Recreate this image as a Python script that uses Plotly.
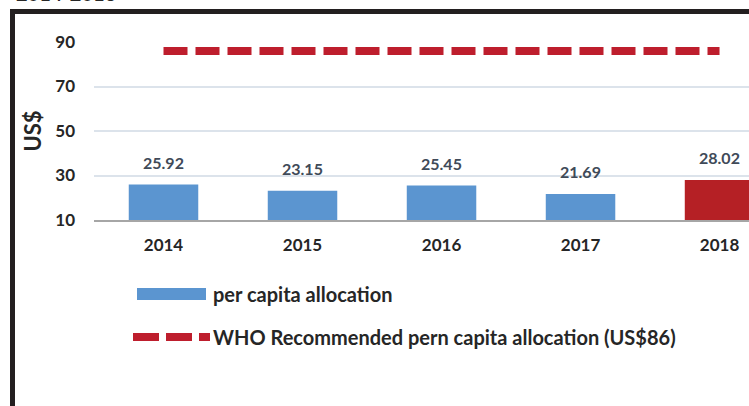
import plotly.graph_objects as go

# --- data ---
years = ["2014", "2015", "2016", "2017", "2018"]
allocation = [25.92, 23.15, 25.45, 21.69, 28.02]
who_recommended = [86, 86, 86, 86, 86]
y_ticks = [10, 30, 50, 70, 90]

W, H = 749, 406
FONT = "Lato"
TEXT_DARK = "#262626"
LABEL_GREY = "#404A58"
BLUE = "#5B95D0"
RED = "#B52025"
DASH_RED = "#BE1E2D"


def px(x):
    # pixel -> paper x
    return x / W


def py(y):
    # pixel -> paper y (pixels measured from the top)
    return 1 - y / H


bar_colors = [BLUE] * (len(years) - 1) + [RED]

fig = go.Figure()

fig.add_trace(go.Bar(
    x=years, y=allocation, width=0.5,
    marker=dict(color=bar_colors, line=dict(width=0)),
    name="per capita allocation", showlegend=False,
))

fig.add_trace(go.Scatter(
    x=years, y=who_recommended, mode="lines",
    line=dict(color=DASH_RED, width=8, dash="24px,8px"),
    name="WHO Recommended pern capita allocation (US$86)", showlegend=False,
))

# value labels sit a bit above each bar
# (category axis: annotations take the category index, "2014" would read as a number)
for i, val in enumerate(allocation):
    fig.add_annotation(
        x=i, y=val, xref="x", yref="y", text=f"{val:.2f}", showarrow=False,
        yshift=22, font=dict(family=FONT, size=16, color=LABEL_GREY, weight="bold"),
    )

# --- hand-drawn legend (symbols are wider than plotly's own) ---
fig.add_shape(type="rect", xref="paper", yref="paper",
              x0=px(137), x1=px(206), y0=py(300), y1=py(288),
              fillcolor=BLUE, line=dict(width=0))
fig.add_shape(type="line", xref="paper", yref="paper",
              x0=px(133), x1=px(210), y0=py(337), y1=py(337),
              line=dict(color=DASH_RED, width=8, dash="26px,7px"))
fig.add_annotation(x=px(211), y=py(294), xref="paper", yref="paper",
                   xanchor="left", yanchor="middle", showarrow=False,
                   text="per capita allocation",
                   font=dict(family=FONT, size=20, color=TEXT_DARK, weight="bold"))
fig.add_annotation(x=px(211), y=py(337), xref="paper", yref="paper",
                   xanchor="left", yanchor="middle", showarrow=False,
                   text="WHO Recommended pern capita allocation (US$86)",
                   font=dict(family=FONT, size=20, color=TEXT_DARK, weight="bold"))

# cropped title peeking in at the very top
fig.add_annotation(x=px(14), y=py(7), xref="paper", yref="paper",
                   xanchor="left", yanchor="bottom", showarrow=False,
                   text="2014-2018",
                   font=dict(family=FONT, size=20, color=TEXT_DARK, weight="bold"))

# black frame on the left and top
fig.add_shape(type="rect", xref="paper", yref="paper",
              x0=px(10), x1=px(15), y0=0, y1=py(9),
              fillcolor="#231F20", line=dict(width=0))
fig.add_shape(type="rect", xref="paper", yref="paper",
              x0=px(10), x1=1, y0=py(14), y1=py(9),
              fillcolor="#231F20", line=dict(width=0))

fig.update_layout(
    width=W, height=H,
    margin=dict(l=0, r=0, t=0, b=0, pad=0),
    paper_bgcolor="white", plot_bgcolor="white",
    showlegend=False,
    xaxis=dict(
        domain=[px(94), 1], range=[-0.5, 4.212], automargin=False,
        type="category", showgrid=False, showline=True,
        linecolor="#A6A6A6", linewidth=1.5,
        ticks="", ticklabelstandoff=9,
        tickfont=dict(family=FONT, size=17, color=TEXT_DARK, weight="bold"),
    ),
    yaxis=dict(
        domain=[py(220), py(42)], range=[10, 90], automargin=False,
        tickvals=y_ticks, showgrid=True, gridcolor="#DCE3EB", gridwidth=1.5,
        zeroline=False, ticks="", ticklabelstandoff=18,
        tickfont=dict(family=FONT, size=17, color=TEXT_DARK, weight="bold"),
        title=dict(text="US$", standoff=7,
                   font=dict(family=FONT, size=22, color=TEXT_DARK, weight="bold")),
    ),
)

# drop the default page margin so the figure sits at the window's corner
fig.write_html(
    "out.html",
    config={"displayModeBar": False},
    post_script="document.body.style.margin='0';document.body.style.overflow='hidden';",
)
